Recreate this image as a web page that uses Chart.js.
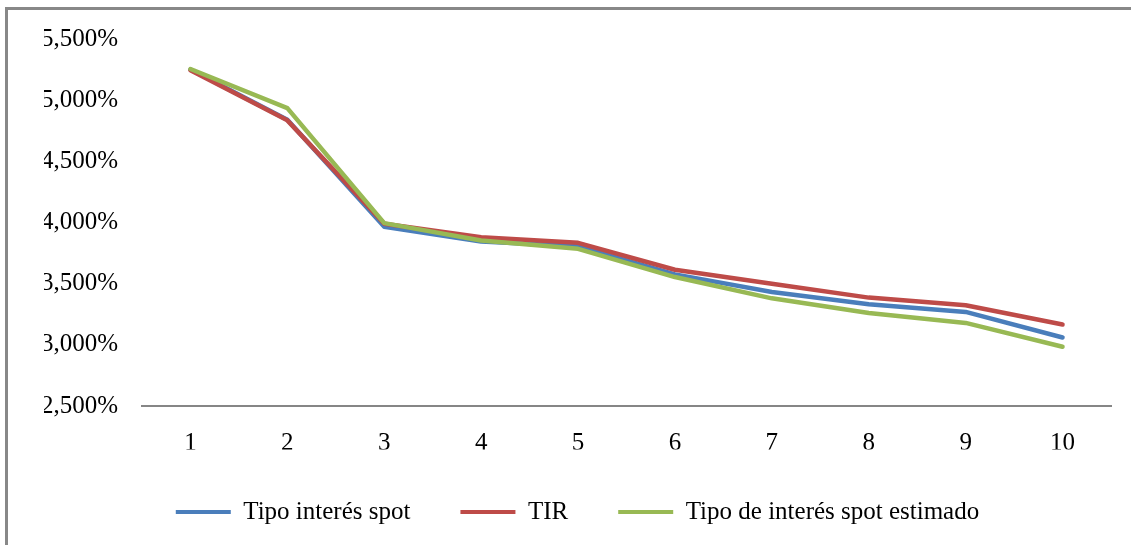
<!DOCTYPE html>
<html>
<head>
<meta charset="utf-8">
<script src="https://cdn.jsdelivr.net/npm/chart.js@4"></script>
<style>
  html, body { margin: 0; padding: 0; background: #fff; overflow: hidden; }
  #wrap { position: relative; width: 1131px; height: 545px; }
  #frame {
    position: absolute; left: 5px; top: 7px; width: 1200px; height: 600px;
    border-top: 3px solid #888; border-left: 3px solid #888;
  }
  #chart { position: absolute; left: 0; top: 0; }
</style>
</head>
<body>
<div id="wrap">
  <div id="frame"></div>
  <canvas id="chart" width="1131" height="545"></canvas>
</div>
<script>
const years = ["1", "2", "3", "4", "5", "6", "7", "8", "9", "10"];
const spotRates = [5.25, 4.84, 3.965, 3.845, 3.805, 3.576, 3.432, 3.331, 3.269, 3.06];
const tirRates = [5.245, 4.835, 3.99, 3.879, 3.834, 3.614, 3.5, 3.386, 3.323, 3.166];
const estimatedRates = [5.255, 4.935, 3.995, 3.853, 3.785, 3.554, 3.38, 3.261, 3.179, 2.984];
const yTickLabels = ["2,500%", "3,000%", "3,500%", "4,000%", "4,500%", "5,000%", "5,500%"];

const seriesNames = ["Tipo interés spot", "TIR", "Tipo de interés spot estimado"];
const seriesColors = ["#4a7ebb", "#be4b48", "#98b954"];

const FONT = "'Liberation Serif', 'Times New Roman', serif";

function makeDataset(label, data, color, order) {
  return {
    label,
    data,
    borderColor: color,
    backgroundColor: color,
    borderWidth: 4.5,
    pointRadius: 0,
    tension: 0,
    borderCapStyle: "round",
    borderJoinStyle: "round",
    order,
  };
}

new Chart(document.getElementById("chart"), {
  type: "line",
  data: {
    labels: years,
    datasets: [
      makeDataset(seriesNames[0], spotRates, seriesColors[0], 3),
      makeDataset(seriesNames[1], tirRates, seriesColors[1], 2),
      makeDataset(seriesNames[2], estimatedRates, seriesColors[2], 1),
    ],
  },
  options: {
    responsive: false,
    animation: false,
    layout: { padding: { left: 44, right: 20, top: 38, bottom: 10.5 } },
    plugins: {
      tooltip: { enabled: false },
      legend: {
        position: "bottom",
        labels: {
          font: { family: FONT, size: 25 },
          color: "#000",
          boxWidth: 55,
          boxHeight: 4,
          padding: 50,
          sort: (a, b) => a.datasetIndex - b.datasetIndex,
          generateLabels: (chart) =>
            chart.data.datasets.map((ds, i) => ({
              text: ds.label,
              fillStyle: ds.borderColor,
              strokeStyle: ds.borderColor,
              lineWidth: 0,
              datasetIndex: i,
              fontColor: "#000",
            })),
        },
      },
    },
    scales: {
      x: {
        offset: true,
        grid: { display: false, drawTicks: false },
        border: { display: true, color: "#868686", width: 2 },
        ticks: { font: { family: FONT, size: 25 }, color: "#000", padding: 22 },
        afterFit: (scale) => { scale.height = 43.5; },
      },
      y: {
        min: 2.5,
        max: 5.5,
        grid: { display: false, drawTicks: false },
        border: { display: false },
        ticks: {
          stepSize: 0.5,
          font: { family: FONT, size: 25 },
          color: "#000",
          padding: 24,
          callback: (value) => yTickLabels[Math.round((value - 2.5) / 0.5)],
        },
        afterFit: (scale) => { scale.width = 98; },
      },
    },
  },
});
</script>
</body>
</html>
